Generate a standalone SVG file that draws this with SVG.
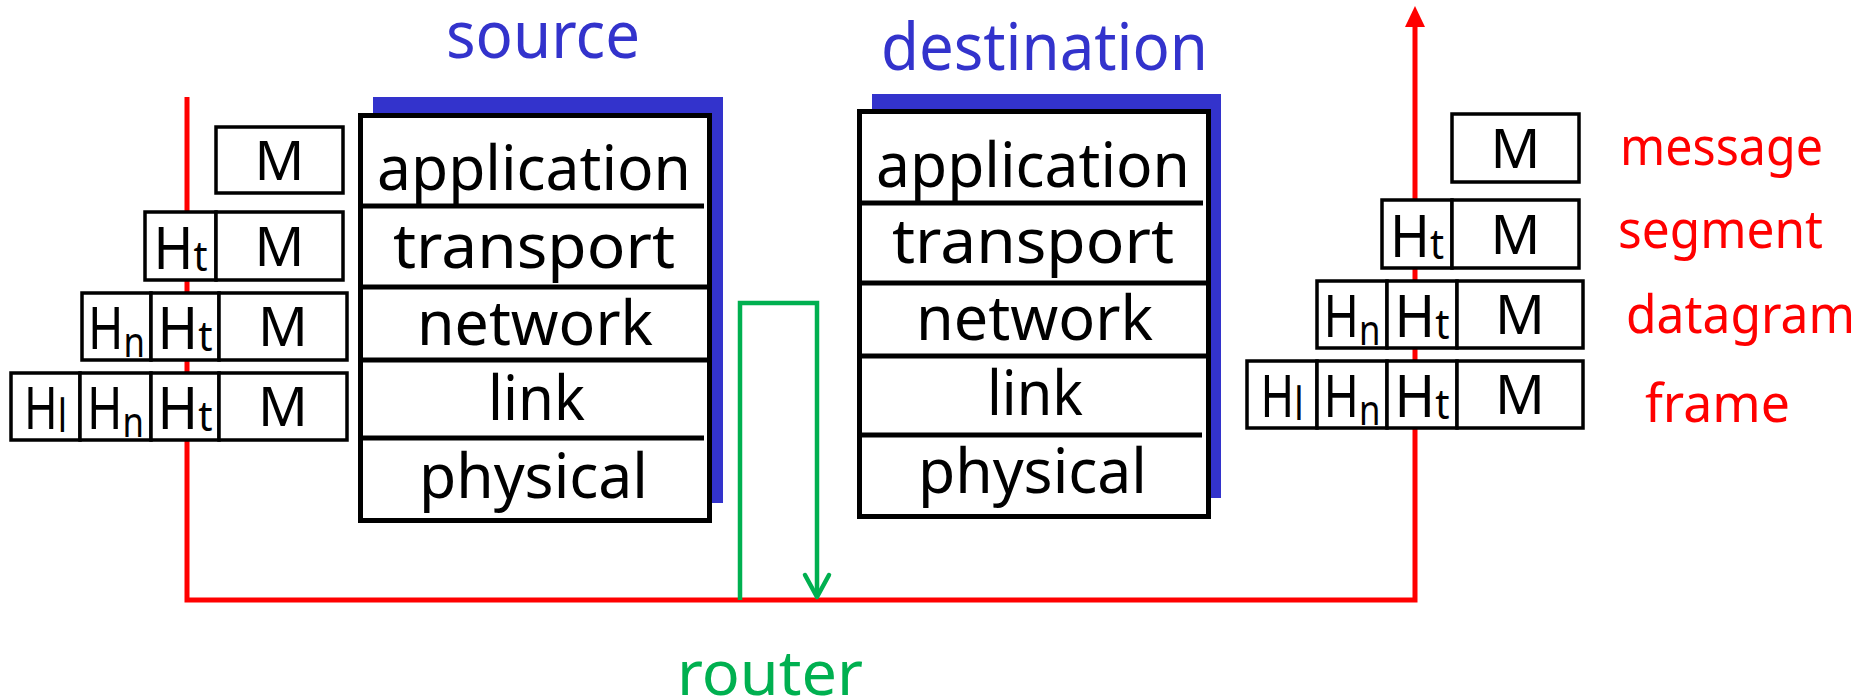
<svg xmlns="http://www.w3.org/2000/svg" width="1862" height="699" viewBox="0 0 1862 699">
<style>
text{font-family:"Noto Sans","DejaVu Sans",sans-serif;}
.bg{fill:#fff}
.box{fill:#fff;stroke:#000;stroke-width:3.5}
.stack{fill:#fff;stroke:#000;stroke-width:5}
.div{stroke:#000;stroke-width:5}
.shadow{fill:#3333cc}
.lay{font-size:62px;fill:#000}
.m{font-size:55px;fill:#000;text-anchor:middle}
.h{font-size:58px;fill:#000;text-anchor:middle}
.sub{font-size:42px}
.subl{font-size:46px}
.title{font-size:66px;fill:#3333cc}
.red{font-size:52px;fill:#ff0000}
.router{font-size:62px;fill:#00b050}
.redline{fill:none;stroke:#ff0000;stroke-width:5}
.green{fill:none;stroke:#00b050;stroke-width:4.5}
</style>
<rect class="bg" x="0" y="0" width="1862" height="699"/>

<g id="connectors">
  <path class="redline" d="M187 97 V600 H1415 V24"/>
  <polygon points="1415,6 1405,27 1425,27" fill="#ff0000"/>
  <path class="green" d="M740 600 V303 H817 V595"/>
  <polyline class="green" points="805,575 817,597 829,575" stroke-linecap="round" stroke-linejoin="round"/>
</g>

<g id="source-title"><text class="title" x="446" y="58" textLength="194" lengthAdjust="spacingAndGlyphs">source</text></g>
<g id="destination-title"><text class="title" x="881" y="70" textLength="327" lengthAdjust="spacingAndGlyphs">destination</text></g>

<g id="source-stack">
  <rect class="shadow" x="373" y="97" width="350" height="406"/>
  <rect class="stack" x="360.5" y="115.5" width="349" height="405"/>
  <line class="div" x1="361" y1="206" x2="704" y2="206"/>
  <line class="div" x1="361" y1="287" x2="709" y2="287"/>
  <line class="div" x1="361" y1="360" x2="709" y2="360"/>
  <line class="div" x1="361" y1="438" x2="704" y2="438"/>
  <text class="lay" x="377" y="190" textLength="314" lengthAdjust="spacingAndGlyphs">application</text>
  <text class="lay" x="393" y="268" textLength="282" lengthAdjust="spacingAndGlyphs">transport</text>
  <text class="lay" x="417" y="345" textLength="236" lengthAdjust="spacingAndGlyphs">network</text>
  <text class="lay" x="488" y="420" textLength="97" lengthAdjust="spacingAndGlyphs">link</text>
  <text class="lay" x="419" y="498" textLength="229" lengthAdjust="spacingAndGlyphs">physical</text>
</g>

<g id="destination-stack">
  <rect class="shadow" x="872" y="94" width="349" height="404"/>
  <rect class="stack" x="859.5" y="111.5" width="349" height="405"/>
  <line class="div" x1="860" y1="203" x2="1203" y2="203"/>
  <line class="div" x1="860" y1="283" x2="1208" y2="283"/>
  <line class="div" x1="860" y1="356" x2="1208" y2="356"/>
  <line class="div" x1="860" y1="435" x2="1202" y2="435"/>
  <text class="lay" x="876" y="187" textLength="314" lengthAdjust="spacingAndGlyphs">application</text>
  <text class="lay" x="892" y="263" textLength="282" lengthAdjust="spacingAndGlyphs">transport</text>
  <text class="lay" x="916" y="340" textLength="237" lengthAdjust="spacingAndGlyphs">network</text>
  <text class="lay" x="987" y="415" textLength="96" lengthAdjust="spacingAndGlyphs">link</text>
  <text class="lay" x="918" y="493" textLength="229" lengthAdjust="spacingAndGlyphs">physical</text>
</g>

<g id="src-message">
  <rect class="box" x="216" y="127" width="127" height="66"/>
  <text class="m" x="279.5" y="180">M</text>
</g>
<g id="src-segment">
  <rect class="box" x="145" y="212" width="71" height="68"/>
  <rect class="box" x="216" y="212" width="127" height="68"/>
  <text class="h" x="180.5" y="269" textLength="54" lengthAdjust="spacingAndGlyphs">H<tspan class="sub" dy="2">t</tspan></text>
  <text class="m" x="279.5" y="266">M</text>
</g>
<g id="src-datagram">
  <rect class="box" x="82" y="293" width="69" height="67"/>
  <rect class="box" x="151" y="293" width="68" height="67"/>
  <rect class="box" x="219" y="293" width="128" height="67"/>
  <text class="h" x="116.5" y="349" textLength="57" lengthAdjust="spacingAndGlyphs">H<tspan class="sub" dy="8">n</tspan></text>
  <text class="h" x="185" y="349" textLength="55" lengthAdjust="spacingAndGlyphs">H<tspan class="sub" dy="2">t</tspan></text>
  <text class="m" x="283" y="346">M</text>
</g>
<g id="src-frame">
  <rect class="box" x="11" y="373" width="69" height="67"/>
  <rect class="box" x="80" y="373" width="71" height="67"/>
  <rect class="box" x="151" y="373" width="68" height="67"/>
  <rect class="box" x="219" y="373" width="128" height="67"/>
  <text class="h" x="45.5" y="429" textLength="43" lengthAdjust="spacingAndGlyphs">H<tspan class="subl" dy="3">l</tspan></text>
  <text class="h" x="115.5" y="429" textLength="57" lengthAdjust="spacingAndGlyphs">H<tspan class="sub" dy="8">n</tspan></text>
  <text class="h" x="185" y="429" textLength="55" lengthAdjust="spacingAndGlyphs">H<tspan class="sub" dy="2">t</tspan></text>
  <text class="m" x="283" y="426">M</text>
</g>

<g id="dst-message">
  <rect class="box" x="1452" y="114" width="127" height="68"/>
  <text class="m" x="1515.5" y="168">M</text>
</g>
<g id="dst-segment">
  <rect class="box" x="1382" y="200" width="70" height="68"/>
  <rect class="box" x="1452" y="200" width="127" height="68"/>
  <text class="h" x="1417" y="257" textLength="54" lengthAdjust="spacingAndGlyphs">H<tspan class="sub" dy="2">t</tspan></text>
  <text class="m" x="1515.5" y="254">M</text>
</g>
<g id="dst-datagram">
  <rect class="box" x="1317" y="281" width="70" height="67"/>
  <rect class="box" x="1387" y="281" width="70" height="67"/>
  <rect class="box" x="1457" y="281" width="126" height="67"/>
  <text class="h" x="1352" y="337" textLength="57" lengthAdjust="spacingAndGlyphs">H<tspan class="sub" dy="8">n</tspan></text>
  <text class="h" x="1422" y="337" textLength="55" lengthAdjust="spacingAndGlyphs">H<tspan class="sub" dy="2">t</tspan></text>
  <text class="m" x="1520" y="334">M</text>
</g>
<g id="dst-frame">
  <rect class="box" x="1247" y="361" width="70" height="67"/>
  <rect class="box" x="1317" y="361" width="70" height="67"/>
  <rect class="box" x="1387" y="361" width="70" height="67"/>
  <rect class="box" x="1457" y="361" width="126" height="67"/>
  <text class="h" x="1282" y="417" textLength="43" lengthAdjust="spacingAndGlyphs">H<tspan class="subl" dy="3">l</tspan></text>
  <text class="h" x="1352" y="417" textLength="57" lengthAdjust="spacingAndGlyphs">H<tspan class="sub" dy="8">n</tspan></text>
  <text class="h" x="1422" y="417" textLength="55" lengthAdjust="spacingAndGlyphs">H<tspan class="sub" dy="2">t</tspan></text>
  <text class="m" x="1520" y="414">M</text>
</g>

<g id="unit-labels">
  <text class="red" x="1620" y="165" textLength="203" lengthAdjust="spacingAndGlyphs">message</text>
  <text class="red" x="1618" y="248" textLength="205" lengthAdjust="spacingAndGlyphs">segment</text>
  <text class="red" x="1626" y="333" textLength="229" lengthAdjust="spacingAndGlyphs">datagram</text>
  <text class="red" x="1645" y="422" textLength="145" lengthAdjust="spacingAndGlyphs">frame</text>
</g>

<g id="router-label"><text class="router" x="677" y="695" textLength="186" lengthAdjust="spacingAndGlyphs">router</text></g>
</svg>
